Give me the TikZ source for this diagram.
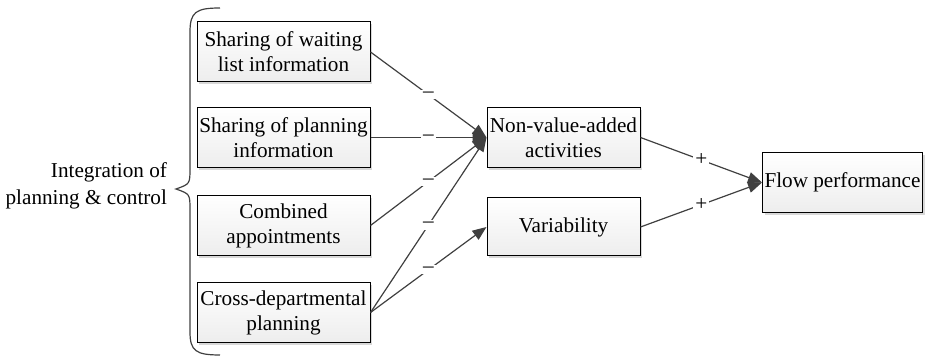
\documentclass[tikz,border=0pt]{standalone}
\usepackage{fontspec}
\setmainfont{LiberationSerif}[Extension=.ttf,UprightFont=*-Regular,BoldFont=*-Bold,ItalicFont=*-Italic,BoldItalicFont=*-BoldItalic]
\usetikzlibrary{arrows.meta,shadows}

\begin{document}
\begin{tikzpicture}[x=0.5pt,y=-0.5pt,
  box/.style={draw=black,line width=0.5pt,top color=white,bottom color=gray!14,
    drop shadow={shadow xshift=1.2pt,shadow yshift=-1.2pt,fill=gray!60,opacity=0.5},
    minimum width=86.5pt,minimum height=30pt,align=center,inner sep=1pt,
    font=\rmfamily\fontsize{10.6}{12.5}\selectfont},
  link/.style={draw=black!75,line width=0.6pt,-{Triangle[length=7pt,width=5.5pt]}},
  sign/.style={fill=white,inner sep=1pt,text=black,font=\rmfamily\fontsize{10.6}{12.5}\selectfont}]
  \useasboundingbox (0,0) rectangle (928,357);

  \node[box] (wait) at (283.5,52) {Sharing of waiting\\list information};
  \node[box] (plan) at (283.5,137.5) {Sharing of planning\\information};
  \node[box] (appt) at (283.5,225.5) {Combined\\appointments};
  \node[box] (cross) at (283.5,312.5) {Cross-departmental\\planning};

  \node[box,minimum width=76.5pt] (nva) at (563.5,137.5) {Non-value-added\\activities};
  \node[box,minimum width=76.5pt,minimum height=29pt] (var) at (563.5,227) {Variability};
  \node[box,minimum width=79.5pt] (flow) at (842.5,182.5) {Flow performance};

  \draw[line width=0.6pt,draw=black!75] (220,8) .. controls (196,8) and (190,12) .. (190,32)
    -- (190,168) .. controls (190,184) .. (176,189)
    .. controls (190,194) .. (190,210) -- (190,332)
    .. controls (190,351) and (196,355) .. (220,355);
  \node[anchor=east,align=right,font=\rmfamily\fontsize{10.6}{13.5}\selectfont] (integ) at (174,186)
    {Integration of\\planning \& control};

  \draw[link] (wait.east) -- node[sign] {--} (nva.west);
  \draw[link] (plan.east) -- node[sign] {--} (nva.west);
  \draw[link] (appt.east) -- node[sign] {--} (nva.west);
  \draw[link] (cross.east) -- node[sign] {--} (nva.west);
  \draw[link] (cross.east) -- node[sign] {--} (var.west);

  \draw[link] (nva.east) -- node[sign] {+} (flow.west);
  \draw[link] (var.east) -- node[sign] {+} (flow.west);
\end{tikzpicture}
\end{document}
